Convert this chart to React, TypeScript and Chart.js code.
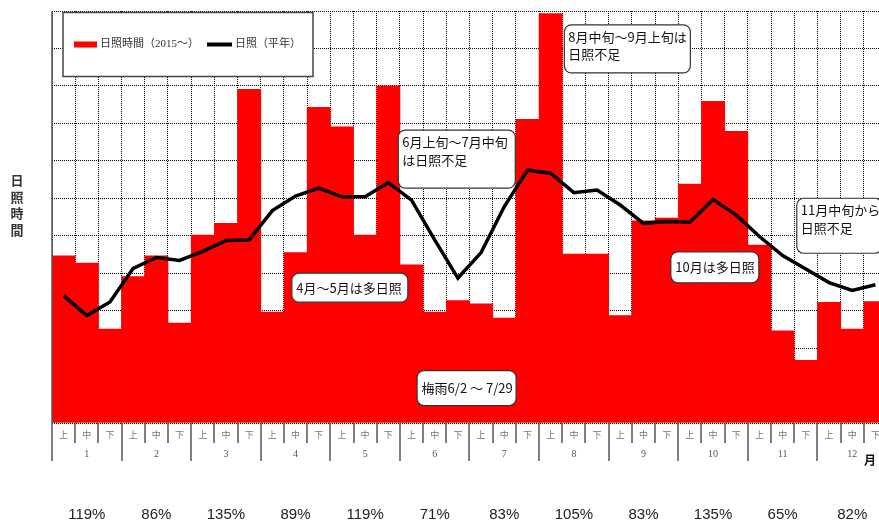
import React, { useEffect, useRef } from "react";
import { Chart, registerables } from "chart.js";

Chart.register(...registerables);

// Months and their ten-day periods (上旬・中旬・下旬)
const months = ["1", "2", "3", "4", "5", "6", "7", "8", "9", "10", "11", "12"];
const dekads = ["上", "中", "下"];

// Sunshine hours per ten-day period, 2015
const sunshine2015 = [
  44.6, 42.7, 25.1, 39.1, 44.6, 26.7, 50.2, 53.3, 89.1, 29.6, 45.5, 84.3,
  79.1, 50.2, 90.0, 42.2, 29.6, 32.7, 31.8, 28.0, 81.1, 109.3, 45.1, 45.1,
  28.7, 54.0, 54.7, 63.8, 85.9, 77.9, 47.5, 24.6, 16.7, 32.2, 25.1, 32.4,
];

// Normal (平年) sunshine hours per ten-day period
const sunshineNormal = [
  34.0, 28.7, 32.3, 41.3, 44.2, 43.4, 45.8, 48.7, 48.9, 56.7, 60.6, 62.7,
  60.4, 60.4, 64.2, 59.5, 48.9, 38.7, 45.5, 57.8, 67.5, 66.7, 61.5, 62.2,
  58.2, 53.3, 53.8, 53.6, 59.7, 55.5, 49.8, 44.7, 41.1, 37.5, 35.4, 36.9,
];

// Monthly ratio to normal
const monthRatios = ["119%", "86%", "135%", "89%", "119%", "71%", "83%", "105%", "83%", "135%", "65%", "82%"];

const seriesNames = ["日照時間（2015～）", "日照（平年）"];
const yTitle = ["日", "照", "時", "間"];
const monthUnit = "月";

// Callout notes: col = left edge in period units, val = top edge in hours
const notes = [
  { lines: ["4月～5月は多日照"], col: 10.34, val: 40.0, w: 116, h: 29 },
  { lines: ["6月上旬～7月中旬", "は日照不足"], col: 14.93, val: 78.2, w: 117, h: 58 },
  { lines: ["8月中旬～9月上旬は", "日照不足"], col: 22.09, val: 106.3, w: 126, h: 48 },
  { lines: ["10月は多日照"], col: 26.68, val: 45.7, w: 88, h: 31 },
  { lines: ["11月中旬から", "日照不足"], col: 32.11, val: 60.0, w: 85, h: 55 },
  { lines: ["梅雨6/2 ～ 7/29"], col: 15.74, val: 14.0, w: 99, h: 35 },
];

const labels = months.flatMap((m) => dekads.map((d) => `${m}月${d}旬`));

const JP = '"Noto Sans CJK JP", sans-serif';

function roundRect(ctx: CanvasRenderingContext2D, x: number, y: number, w: number, h: number, r: number) {
  ctx.beginPath();
  ctx.moveTo(x + r, y);
  ctx.lineTo(x + w - r, y);
  ctx.arcTo(x + w, y, x + w, y + r, r);
  ctx.lineTo(x + w, y + h - r);
  ctx.arcTo(x + w, y + h, x + w - r, y + h, r);
  ctx.lineTo(x + r, y + h);
  ctx.arcTo(x, y + h, x, y + h - r, r);
  ctx.lineTo(x, y + r);
  ctx.arcTo(x, y, x + r, y, r);
  ctx.closePath();
}

const decorations = {
  id: "decorations",
  afterDraw(chart: any) {
    const { ctx, chartArea: a } = chart;
    const x = chart.scales.x;
    const y = chart.scales.y;
    const colW = x.getPixelForValue(1) - x.getPixelForValue(0);
    const edge = (c: number) => x.getPixelForValue(0) - colW / 2 + c * colW;

    ctx.save();

    // period / month separators under the plot
    ctx.strokeStyle = "#555";
    ctx.lineWidth = 1.5;
    for (let c = 0; c <= labels.length; c++) {
      const px = Math.round(edge(c));
      const end = c % 3 === 0 ? a.bottom + 38 : a.bottom + 20;
      ctx.beginPath();
      ctx.moveTo(px, c === 0 ? a.top : a.bottom);
      ctx.lineTo(px, end);
      ctx.stroke();
    }

    // 上・中・下 labels
    ctx.textAlign = "center";
    ctx.textBaseline = "middle";
    ctx.fillStyle = "#777";
    ctx.font = `9px ${JP}`;
    labels.forEach((_, i) => {
      ctx.fillText(dekads[i % 3], x.getPixelForValue(i), a.bottom + 12);
    });

    // month numbers
    ctx.fillStyle = "#555";
    ctx.font = '10px "Liberation Serif", serif';
    months.forEach((m, i) => {
      ctx.fillText(m, x.getPixelForValue(i * 3 + 1), a.bottom + 31);
    });

    // 月
    ctx.fillStyle = "#111";
    ctx.font = `bold 12px ${JP}`;
    ctx.fillText(monthUnit, a.right - 17, a.bottom + 37);

    // monthly ratios
    ctx.fillStyle = "#222";
    ctx.font = '15px "Liberation Sans Narrow", "Liberation Sans", sans-serif';
    monthRatios.forEach((r, i) => {
      ctx.fillText(r, x.getPixelForValue(i * 3 + 1), a.bottom + 92);
    });

    // vertical axis title
    ctx.fillStyle = "#333";
    ctx.font = `bold 13px ${JP}`;
    yTitle.forEach((ch, i) => {
      ctx.fillText(ch, 17, 180.5 + i * 16.5);
    });

    // legend
    const lx = 63, ly = 12.5, lw = 250, lh = 64;
    ctx.fillStyle = "#fff";
    ctx.fillRect(lx, ly, lw, lh);
    ctx.strokeStyle = "#444";
    ctx.lineWidth = 1.5;
    ctx.strokeRect(lx, ly, lw, lh);
    const ry = 44.5;
    ctx.fillStyle = "#ff0000";
    ctx.fillRect(74, ry - 3, 23, 6);
    ctx.fillStyle = "#333";
    ctx.textAlign = "left";
    ctx.font = '11px "Liberation Serif", "Noto Sans CJK JP", serif';
    ctx.fillText(seriesNames[0], 100, ry);
    ctx.strokeStyle = "#000";
    ctx.lineWidth = 4;
    ctx.beginPath();
    ctx.moveTo(207, ry);
    ctx.lineTo(232, ry);
    ctx.stroke();
    ctx.fillText(seriesNames[1], 235, ry);

    // callout notes
    ctx.font = `13px ${JP}`;
    notes.forEach((n) => {
      const bx = edge(n.col);
      const by = y.getPixelForValue(n.val);
      roundRect(ctx, bx, by, n.w, n.h, 7);
      ctx.fillStyle = "#fff";
      ctx.fill();
      ctx.strokeStyle = "#333";
      ctx.lineWidth = 1.2;
      ctx.stroke();
      ctx.fillStyle = "#111";
      ctx.textAlign = "left";
      ctx.textBaseline = "middle";
      if (n.lines.length === 1) {
        ctx.fillText(n.lines[0], bx + 4.5, by + n.h / 2);
      } else {
        n.lines.forEach((t, i) => ctx.fillText(t, bx + 4, by + 12 + i * 17.5));
      }
    });

    ctx.restore();
  },
};

export default function App() {
  const canvasRef = useRef<HTMLCanvasElement | null>(null);

  useEffect(() => {
    if (!canvasRef.current) return;
    const chart = new Chart(canvasRef.current, {
      type: "bar",
      data: {
        labels,
        datasets: [
          {
            type: "line",
            label: seriesNames[1],
            data: sunshineNormal,
            borderColor: "#000",
            borderWidth: 3.5,
            pointRadius: 0,
            tension: 0,
            order: 0,
          } as any,
          {
            type: "bar",
            label: seriesNames[0],
            data: sunshine2015,
            backgroundColor: "#ff0000",
            borderWidth: 0,
            categoryPercentage: 1,
            barPercentage: 1,
            order: 1,
          },
        ],
      },
      options: {
        responsive: false,
        animation: false,
        layout: { padding: { top: 11, left: 0, right: 0, bottom: 0 } },
        plugins: { legend: { display: false }, tooltip: { enabled: false } },
        scales: {
          x: {
            ticks: { display: false },
            grid: { color: "#000", lineWidth: 1, drawTicks: false, offset: true },
            border: { display: false, dash: [1, 1] },
            afterFit: (s: any) => {
              s.height = 101;
            },
          },
          y: {
            min: 0,
            max: 110,
            ticks: { display: false, stepSize: 10 },
            grid: { color: "#000", lineWidth: 1, drawTicks: false },
            border: { display: false, dash: [1, 1] },
            afterFit: (s: any) => {
              s.width = 52;
            },
          },
        },
      },
      plugins: [decorations],
    });
    return () => chart.destroy();
  }, []);

  return (
    <div
      style={{
        position: "fixed",
        left: 0,
        top: 0,
        width: 879,
        height: 524,
        overflow: "hidden",
        background: "#fff",
      }}
    >
      <canvas ref={canvasRef} width={887} height={524} style={{ display: "block" }} />
    </div>
  );
}
